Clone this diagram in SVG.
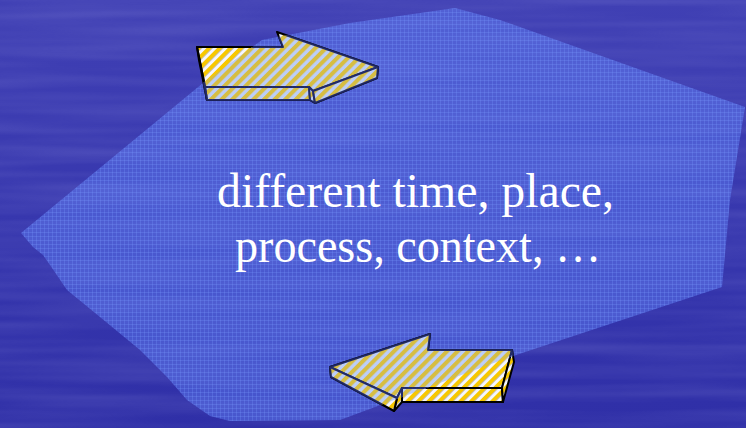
<svg xmlns="http://www.w3.org/2000/svg" xmlns:xlink="http://www.w3.org/1999/xlink" width="746" height="428" viewBox="0 0 746 428">
  <style>
    .shape polygon { stroke-width: 2; stroke-linejoin: round; }
    .bright { fill: url(#stripes); stroke: #000000; }
    .shaded { fill: url(#stripesShaded); stroke: #1c2258; stroke-width: 2.4; }
    .tex { fill: url(#grid); stroke: none; opacity: 0.22; }
    .lbl { font-family: "Liberation Serif", "Times New Roman", serif; font-size: 48px; fill: #ffffff; }
  </style>
  <defs>
    <linearGradient id="bg" x1="0" y1="0" x2="0" y2="1">
      <stop offset="0" stop-color="#4040b4"/>
      <stop offset="0.5" stop-color="#3737ae"/>
      <stop offset="1" stop-color="#2f2fa7"/>
    </linearGradient>
    <filter id="streak" x="0" y="0" width="1" height="1">
      <feTurbulence type="fractalNoise" baseFrequency="0.004 0.09" numOctaves="2" seed="3" result="n"/>
      <feColorMatrix in="n" type="matrix" values="0 0 0 0 0.45  0 0 0 0 0.45  0 0 0 0 0.85  0 0 0 0.5 -0.15"/>
    </filter>
    <pattern id="stripes" patternUnits="userSpaceOnUse" width="7.5" height="7.5" patternTransform="rotate(45)">
      <rect x="0" y="0" width="4.2" height="7.5" fill="#f7c800"/>
      <rect x="4.2" y="0" width="3.3" height="7.5" fill="#f4f6ff"/>
    </pattern>
    <pattern id="stripesShaded" patternUnits="userSpaceOnUse" width="7.5" height="7.5" patternTransform="rotate(45)">
      <rect x="0" y="0" width="4.2" height="7.5" fill="#e4c42c"/>
      <rect x="4.2" y="0" width="3.3" height="7.5" fill="#c6d6fa"/>
    </pattern>
    <pattern id="grid" patternUnits="userSpaceOnUse" width="4" height="4">
      <rect width="4" height="4" fill="#6488ff" fill-opacity="0.42"/>
      <rect width="4" height="1" fill="#7a9cff" fill-opacity="0.25"/>
      <rect width="1" height="4" fill="#7a9cff" fill-opacity="0.25"/>
    </pattern>
    <clipPath id="regionClip">
      <polygon points="21,233 203,83 262,40 350,23 455,8 500,20 745,107 730,200 722,287 510,357 340,420 230,421 210,416 187,400 167,377 140,350 100,317 67,290 50,265 43,255 33,247"/>
    </clipPath>
    <g id="shapeTop" class="shape">
      <polygon points="197,47 283,47 277,32 378,67 313,91 309,87 205,87"/>
      <polygon points="205,87 309,87 310,100 207,100"/>
      <polygon points="309,87 313,91 315,103 310,100"/>
      <polygon points="313,91 378,67 377,78 315,103"/>
      <polygon points="197,47 205,87 207,100 199,60"/>
    </g>
    <g id="shapeBottom" class="shape">
      <polygon points="512,350 428,350 430,334 330,367 397,398 402,388 502,388"/>
      <polygon points="402,388 502,388 503,402 402,402"/>
      <polygon points="397,398 402,388 402,402 394,411"/>
      <polygon points="330,367 397,398 394,411 331,377"/>
      <polygon points="512,350 502,388 503,402 514,362"/>
    </g>
  </defs>

  <g id="background">
    <rect width="746" height="428" fill="url(#bg)"/>
    <rect width="746" height="428" filter="url(#streak)" opacity="0.5"/>
  </g>

  <g id="region">
    <polygon fill="url(#grid)" points="21,233 203,83 262,40 350,23 455,8 500,20 745,107 730,200 722,287 510,357 340,420 230,421 210,416 187,400 167,377 140,350 100,317 67,290 50,265 43,255 33,247"/>
  </g>

  <g id="arrow-top">
    <use xlink:href="#shapeTop" href="#shapeTop" class="bright"/>
    <g clip-path="url(#regionClip)">
      <use xlink:href="#shapeTop" href="#shapeTop" class="shaded"/>
      <use xlink:href="#shapeTop" href="#shapeTop" class="tex"/>
    </g>
  </g>

  <g id="arrow-bottom">
    <use xlink:href="#shapeBottom" href="#shapeBottom" class="bright"/>
    <g clip-path="url(#regionClip)">
      <use xlink:href="#shapeBottom" href="#shapeBottom" class="shaded"/>
      <use xlink:href="#shapeBottom" href="#shapeBottom" class="tex"/>
    </g>
  </g>

  <g id="label">
    <text class="lbl" x="217" y="207" textLength="397" lengthAdjust="spacingAndGlyphs">different time, place,</text>
    <text class="lbl" x="235" y="262" textLength="366" lengthAdjust="spacingAndGlyphs">process, context, …</text>
  </g>
</svg>
